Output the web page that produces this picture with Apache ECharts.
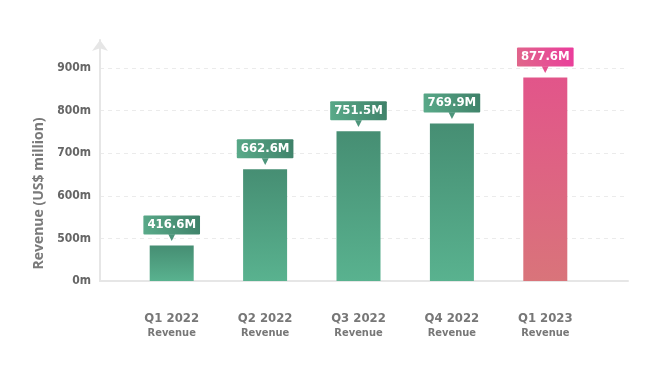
<!DOCTYPE html>
<html><head><meta charset="utf-8">
<script src="https://cdn.jsdelivr.net/npm/echarts@6/dist/echarts.min.js"></script>
<style>html,body{margin:0;padding:0;background:#fff}#c{width:670px;height:380px}</style>
</head><body><div id="c"></div>
<script>
const categories = ['Q1 2022', 'Q2 2022', 'Q3 2022', 'Q4 2022', 'Q1 2023'];
const subLabel = 'Revenue';
const revenue = [416.6, 662.6, 751.5, 769.9, 877.6];
const tickValues = [0, 500, 600, 700, 800, 900];
const tickLabels = ['0m', '500m', '600m', '700m', '800m', '900m'];
const axisTitle = 'Revenue (US$ million)';

const FONT = '"DejaVu Sans", sans-serif';
const CW = 'bold condensed';

// broken axis: each tick step is one unit on the drawn scale
function toPos(v) {
  for (let i = 0; i < tickValues.length - 1; i++) {
    if (v <= tickValues[i + 1]) return i + (v - tickValues[i]) / (tickValues[i + 1] - tickValues[i]);
  }
  const n = tickValues.length - 1;
  return n + (v - tickValues[n]) / (tickValues[n] - tickValues[n - 1]);
}
const G = echarts.graphic.LinearGradient;
const green = new G(0, 0, 0, 1, [{offset: 0, color: '#468e73'}, {offset: 1, color: '#59b28f'}]);
const pink = new G(0, 0, 0, 1, [{offset: 0, color: '#e2558a'}, {offset: 1, color: '#d9747a'}]);
const greenBox = new G(0, 1, 1, 0, [{offset: 0, color: '#5aab8a'}, {offset: 1, color: '#3e8068'}]);
const pinkBox = new G(0, 1, 1, 0, [{offset: 0, color: '#e0678a'}, {offset: 1, color: '#ea3c9c'}]);

const data = revenue.map((v, i) => {
  const hi = i === revenue.length - 1;
  return {
    value: toPos(v),
    itemStyle: {color: hi ? pink : green},
    label: {
      rich: {
        box: {backgroundColor: hi ? pinkBox : greenBox, color: '#fff', fontFamily: FONT, fontWeight: CW, fontSize: 13, height: 19, lineHeight: 19, padding: [0, 4], borderRadius: 1},
        arr: {color: hi ? '#e4508f' : '#4d957b', fontSize: 9, lineHeight: 7, height: 7, fontFamily: 'DejaVu Sans'}
      }
    }
  };
});

const chart = echarts.init(document.getElementById('c'), null, {renderer: 'canvas'});
chart.setOption({
  animation: false,
  backgroundColor: '#fff',
  grid: [
    {left: 100, right: 42, top: 40, bottom: 99},
    {left: 100, right: 42, top: 68, bottom: 99},
    {left: 125, right: 78, top: 68, bottom: 99}
  ],
  xAxis: [
    {gridIndex: 0, type: 'value', min: 0, max: 1, axisLine: {show: true, lineStyle: {color: '#e6e6e6', width: 2}}, axisTick: {show: false}, axisLabel: {show: false}, splitLine: {show: false}},
    {gridIndex: 1, type: 'value', min: 0, max: 1, show: false},
    {gridIndex: 2, type: 'category', data: categories,
      axisLine: {show: false}, axisTick: {show: false},
      axisLabel: {margin: 30, lineHeight: 14, formatter: (c) => '{a|' + c + '}\n{b|' + subLabel + '}',
        rich: {a: {fontFamily: FONT, fontWeight: CW, fontSize: 13, color: '#777', lineHeight: 15},
               b: {fontFamily: FONT, fontWeight: CW, fontSize: 11, color: '#777', lineHeight: 15}}}}
  ],
  yAxis: [
    {gridIndex: 0, type: 'value', min: 0, max: 1, axisLine: {show: true, symbol: ['none', 'arrow'], symbolSize: [12, 11], lineStyle: {color: '#e6e6e6', width: 2}}, axisTick: {show: false}, axisLabel: {show: false}, splitLine: {show: false}},
    {gridIndex: 1, type: 'value', min: 0, max: tickValues.length - 1, interval: 1,
      name: axisTitle, nameLocation: 'middle', nameGap: 32, nameRotate: 90,
      nameTextStyle: {fontFamily: '"Open Sans", "DejaVu Sans", sans-serif', fontWeight: 'bold', fontSize: 14, color: '#7a7a7a', padding: [0, 38, 0, 0]},
      axisLine: {show: false}, axisTick: {show: false},
      axisLabel: {margin: 9, fontFamily: FONT, fontWeight: CW, fontSize: 12, color: '#666', formatter: (p) => tickLabels[Math.round(p)]},
      splitLine: {show: true, lineStyle: {color: '#ebebeb', type: [4, 4], width: 1}}},
    {gridIndex: 2, type: 'value', min: 0, max: tickValues.length - 1, interval: 1, show: false}
  ],
  series: [{
    type: 'bar', xAxisIndex: 2, yAxisIndex: 2, barWidth: 44, data: data,
    label: {show: true, position: 'top', distance: 4,
      formatter: (p) => '{box|' + revenue[p.dataIndex].toFixed(1) + 'M}\n{arr|▼}'}
  }]
});
</script></body></html>
